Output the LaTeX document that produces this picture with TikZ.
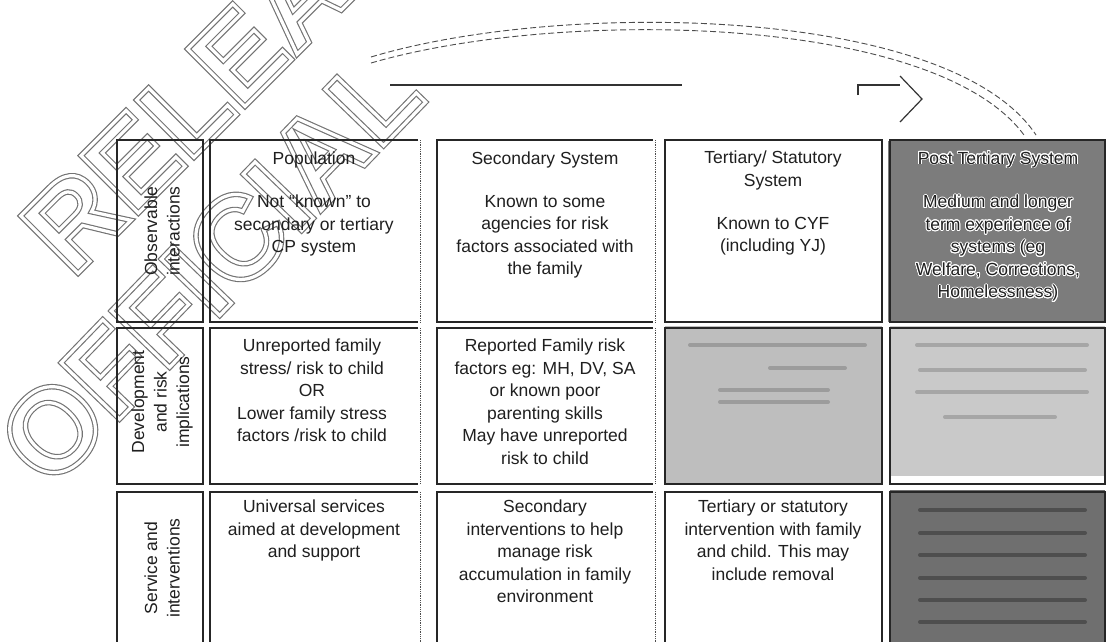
\documentclass[tikz,border=0pt]{standalone}
\usepackage{fontspec}
\setmainfont{Liberation Sans}
\usepackage[copies]{contour}
\contournumber{20}
\newcommand{\wmword}[1]{%
  \rlap{\special{pdf:literal direct 1 Tr 5.5 w}\color{black!55}#1}%
  {\special{pdf:literal direct 1 Tr 3.2 w}\color{white}#1}%
  \special{pdf:literal direct 0 Tr}}
\newcommand{\bodyfont}{\fontsize{17.5}{22.5}\selectfont}
\newcommand{\wmfont}{\fontsize{118}{118}\selectfont\bfseries}
\newcommand{\halo}[1]{{\contourlength{0.9pt}\contour{white}{#1}}}
\definecolor{gA}{HTML}{BEBEBE}
\definecolor{gAbar}{HTML}{9C9C9C}
\definecolor{gB}{HTML}{C9C9C9}
\definecolor{gBbar}{HTML}{A6A6A6}
\definecolor{gC}{HTML}{6F6F6F}
\definecolor{gCbar}{HTML}{4E4E4E}
\definecolor{gD}{HTML}{7C7C7C}
\tikzset{
  cell/.style={draw=black!85, line width=1.1pt},
  sep/.style={draw=black!70, line width=0.8pt, densely dotted},
  txt/.style={align=center, font=\bodyfont, text=black!88, inner sep=0pt},
  lbl/.style={txt, rotate=90},
  blur/.style={line width=4pt, line cap=round},
  wm/.style={inner sep=0pt, font=\wmfont},
  arrowline/.style={draw=black!80, line width=1.2pt},
  curve/.style={draw=black!70, line width=0.9pt, dash pattern=on 6pt off 3pt},
}
\begin{document}
\begin{tikzpicture}[x=1pt,y=-1pt]
\useasboundingbox (0,0) rectangle (1108,641);
\fill[white] (0,0) rectangle (1108,641);

% watermark
\node[wm, rotate=45] (wmA) at (271,23) {\wmword{RELEASED}};
\node[wm, rotate=46] (wmB) at (210,267) {\wmword{OFFICIAL}};

% top hollow arrow (visible parts)
\coordinate (a1) at (390,85);
\coordinate (a2) at (682,85);
\coordinate (a3) at (858,95);
\coordinate (a4) at (858,85);
\coordinate (a5) at (900,85);
\coordinate (h1) at (900,76);
\coordinate (h2) at (922,99);
\coordinate (h3) at (900,122);
\draw[arrowline] (a1) -- (a2);
\draw[arrowline] (a3) -- (a4) -- (a5);
\draw[arrowline, line join=miter] (h1) -- (h2) -- (h3);

% dashed curve
\coordinate (c0) at (371,57);
\coordinate (c1) at (1036,135);
\coordinate (d0) at (371,63);
\coordinate (d1) at (1024,135);
\draw[curve] (c0) .. controls (560,0) and (950,5) .. (c1);
\draw[curve] (d0) .. controls (560,8) and (935,14) .. (d1);

% gray cells
\fill[gD] (888,141) rectangle (1105,322);
\fill[gA] (665,326) rectangle (882,484);
\fill[gB] (890,326) rectangle (1105,476);
\fill[gC] (890,490) rectangle (1105,650);
\foreach \y/\a/\b in {345/690/865, 368/770/845, 390/720/828, 402/720/828}
  \draw[blur, gAbar] (\a,\y) -- (\b,\y);
\foreach \y/\a/\b in {345/917/1087, 370/920/1085, 392/917/1087, 417/945/1055}
  \draw[blur, gBbar] (\a,\y) -- (\b,\y);
\foreach \y in {510,533,555,578,600,622}
  \draw[blur, gCbar] (920,\y) -- (1085,\y);

% grid
\foreach \t/\b in {140/322, 328/484, 492/650}{
  \draw[cell] (117,\t) rectangle (203,\b);
  \draw[cell] (418,\t) -- (210,\t) -- (210,\b) -- (418,\b);
  \draw[sep] (420,\t) -- (420,\b);
  \draw[cell] (653,\t) -- (437,\t) -- (437,\b) -- (653,\b);
  \draw[sep] (655,\t) -- (655,\b);
  \draw[cell] (665,\t) rectangle (882,\b);
  \draw[cell] (890,\t) rectangle (1105,\b);
}

% row labels
\node[lbl] (lab1) at (162,231) {Observable\\interactions};
\node[lbl] (lab2) at (162,402) {Development\\and risk\\implications};
\node[lbl] (lab3) at (162,568) {Service and\\interventions};

% row 1
\node[txt] (pop) at (314,160) {Population};
\node[txt, anchor=north] (pop1) at (314,195) {Not “known” to\\secondary or tertiary\\CP system};
\node[txt] (sec) at (545,160) {Secondary System};
\node[txt, anchor=north] (sec1) at (545,195) {Known to some\\agencies for risk\\factors associated with\\the family};
\node[txt, anchor=north] (ter) at (773,151) {Tertiary/ Statutory\\System};
\node[txt, anchor=north] (ter1) at (773,217) {Known to CYF\\(including YJ)};
\node[txt] (post) at (998,160) {\halo{Post Tertiary System}};
\node[txt, anchor=north] (post1) at (998,195) {\halo{Medium and longer}\\\halo{term experience of}\\\halo{systems (eg}\\\halo{Welfare, Corrections,}\\\halo{Homelessness)}};

% row 2
\node[txt, anchor=north] (dev1) at (312,339) {Unreported family\\stress/ risk to child\\OR\\Lower family stress\\factors /risk to child};
\node[txt, anchor=north] (dev2) at (545,339) {Reported Family risk\\factors eg: MH, DV, SA\\or known poor\\parenting skills\\May have unreported\\risk to child};

% row 3
\node[txt, anchor=north] (srv1) at (314,500) {Universal services\\aimed at development\\and support};
\node[txt, anchor=north] (srv2) at (545,500) {Secondary\\interventions to help\\manage risk\\accumulation in family\\environment};
\node[txt, anchor=north] (srv3) at (773,500) {Tertiary or statutory\\intervention with family\\and child. This may\\include removal};
\end{tikzpicture}
\end{document}
